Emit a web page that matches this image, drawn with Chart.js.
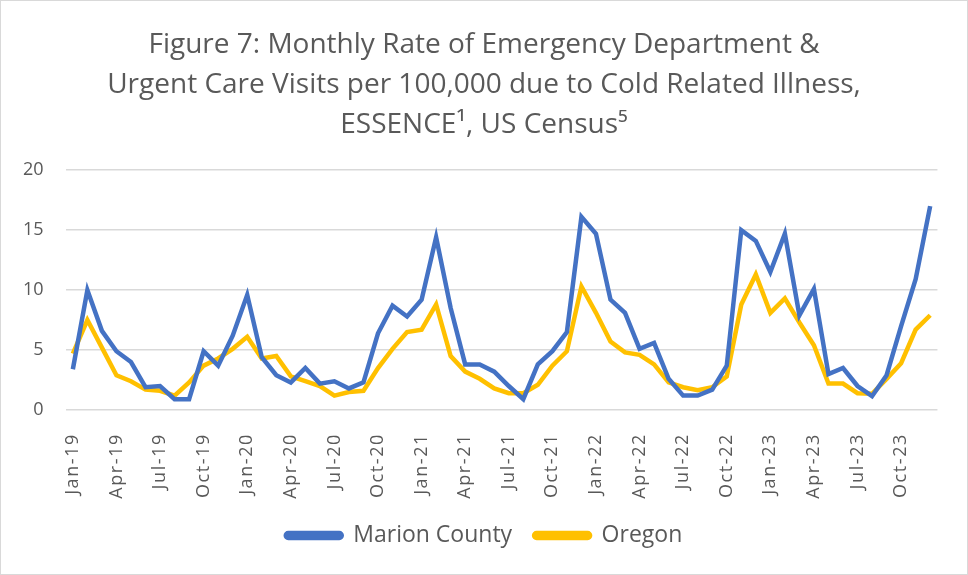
<!DOCTYPE html>
<html>
<head>
<meta charset="utf-8">
<script src="https://cdn.jsdelivr.net/npm/chart.js@4"></script>
<style>
  html, body { margin: 0; padding: 0; background: #fff; }
  #wrap { width: 966px; height: 573px; border: 1px solid #d9d9d9; position: relative; }
</style>
</head>
<body>
<div id="wrap"><canvas id="chart" width="966" height="573"></canvas></div>
<script>
const months = [];
const monNames = ['Jan','Feb','Mar','Apr','May','Jun','Jul','Aug','Sep','Oct','Nov','Dec'];
for (let y = 19; y <= 23; y++) {
    monNames.forEach(m => months.push(m + '-' + y));
}
const tickLabels = ['Jan-19','Apr-19','Jul-19','Oct-19','Jan-20','Apr-20','Jul-20','Oct-20','Jan-21','Apr-21','Jul-21','Oct-21',
    'Jan-22','Apr-22','Jul-22','Oct-22','Jan-23','Apr-23','Jul-23','Oct-23'];

const marion = [3.4, 10.0, 6.6, 4.9, 4.0, 1.9, 2.0, 0.9, 0.9, 4.9, 3.7, 6.2,
    9.6, 4.4, 2.9, 2.3, 3.5, 2.2, 2.4, 1.8, 2.3, 6.4, 8.7, 7.8,
    9.2, 14.4, 8.5, 3.8, 3.8, 3.2, 2.0, 0.9, 3.8, 4.9, 6.5, 16.1,
    14.7, 9.2, 8.1, 5.1, 5.6, 2.6, 1.2, 1.2, 1.7, 3.7, 15.0, 14.1,
    11.5, 14.7, 7.9, 10.1, 3.0, 3.5, 2.0, 1.15, 2.9, 7.0, 10.9, 17.0];
const oregon = [4.7, 7.5, 5.2, 2.9, 2.4, 1.7, 1.6, 1.2, 2.3, 3.7, 4.3, 5.1,
    6.1, 4.3, 4.5, 2.8, 2.4, 2.0, 1.2, 1.5, 1.6, 3.5, 5.1, 6.5,
    6.7, 8.8, 4.5, 3.2, 2.6, 1.8, 1.4, 1.4, 2.1, 3.7, 4.9, 10.3,
    8.1, 5.7, 4.8, 4.6, 3.8, 2.3, 1.9, 1.65, 1.9, 2.8, 8.8, 11.3,
    8.1, 9.3, 7.3, 5.4, 2.2, 2.2, 1.4, 1.35, 2.6, 3.9, 6.7, 7.9];

const gray = '#595959';

// the x labels in the original are set a bit wider, so add letter spacing when they are drawn
const spacedTicks = {
    id: 'spacedTicks',
    afterUpdate(chart) {
        const xs = chart.scales.x;
        if (!xs || xs._spaced) return;
        const orig = xs.drawLabels.bind(xs);
        xs.drawLabels = function(area) {
            const c = chart.ctx;
            c.save();
            c.letterSpacing = '1.6px';
            orig(area);
            c.restore();
        };
        xs._spaced = true;
    }
};

new Chart(document.getElementById('chart'), {
    type: 'line',
    data: {
        labels: months,
        datasets: [
            { label: 'Marion County', data: marion, borderColor: '#4472C4', backgroundColor: '#4472C4',
              borderWidth: 4.5, pointRadius: 0, tension: 0 },
            { label: 'Oregon', data: oregon, borderColor: '#FFC000', backgroundColor: '#FFC000',
              borderWidth: 4.5, pointRadius: 0, tension: 0 }
        ]
    },
    plugins: [spacedTicks],
    options: {
        responsive: false,
        animation: false,
        layout: { padding: { left: 0, right: 0, top: 24, bottom: 17 } },
        plugins: {
            title: {
                display: true,
                text: ['Figure 7: Monthly Rate of Emergency Department &',
                       'Urgent Care Visits per 100,000 due to Cold Related Illness,',
                       'ESSENCE¹, US Census⁵'],
                color: gray,
                font: { family: 'Open Sans', size: 28, weight: 'normal', lineHeight: 1.43 },
                padding: { top: 0, bottom: 25 }
            },
            legend: {
                position: 'bottom',
                labels: {
                    color: gray,
                    font: { family: 'Open Sans', size: 23 },
                    boxWidth: 56,
                    boxHeight: 5,
                    useBorderRadius: true,
                    borderRadius: 2.5,
                    padding: 22
                }
            },
            tooltip: { enabled: false }
        },
        scales: {
            x: {
                offset: true,
                grid: { display: false },
                border: { display: false },
                afterFit: s => { s.height = 92; },
                ticks: {
                    autoSkip: false,
                    minRotation: 90,
                    maxRotation: 90,
                    padding: 15,
                    color: gray,
                    font: { family: 'Open Sans', size: 18 },
                    callback: function(v) {
                        const l = this.getLabelForValue(v);
                        return tickLabels.includes(l) ? l : '';
                    }
                }
            },
            y: {
                min: 0,
                max: 20,
                ticks: { stepSize: 5, color: gray, font: { family: 'Open Sans', size: 18 }, padding: 22 },
                grid: { color: '#d9d9d9', lineWidth: 1.5, drawTicks: false },
                border: { display: false }
            },
            // empty right axis, only keeps the plot off the right edge
            yRight: {
                position: 'right',
                min: 0,
                max: 20,
                ticks: { display: false },
                grid: { display: false },
                border: { display: false },
                afterFit: s => { s.width = 27; }
            }
        }
    }
});
</script>
</body>
</html>
